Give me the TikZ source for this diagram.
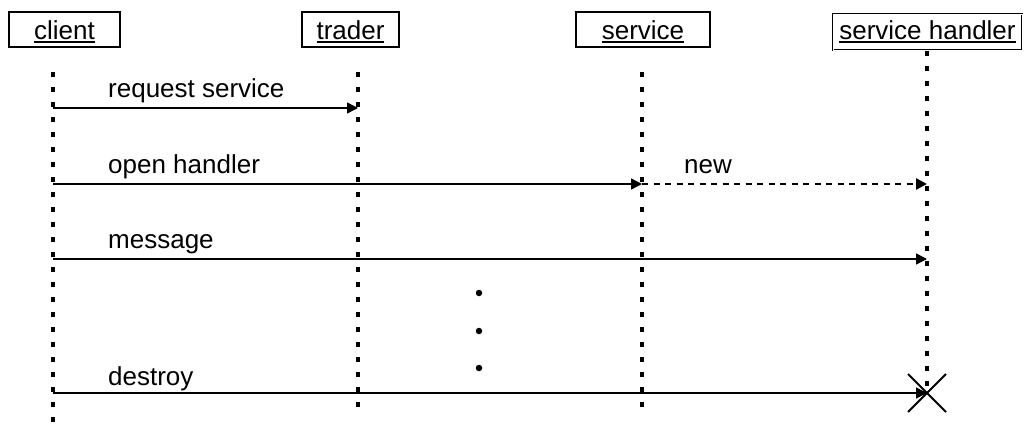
\documentclass[tikz,border=0pt]{standalone}
\usepackage{fontspec}
\setmainfont{Liberation Sans}
\usetikzlibrary{arrows.meta,calc}
\newcommand\objname[1]{\setbox0\hbox{#1}\rlap{\rule[-2.8pt]{\wd0}{1.3pt}}\box0}
\tikzset{
  objbox/.style={draw, line width=1.3pt, inner sep=0pt, text height=21pt, text depth=0pt, anchor=center},
  lifeline/.style={line width=3.2pt, dash pattern=on 5pt off 10pt},
  msg/.style={line width=1.6pt, -{Triangle[length=11pt,width=11pt]}},
  create/.style={line width=2.4pt, dash pattern=on 6pt off 5.5pt, -{Triangle[length=11pt,width=11pt]}},
  lbl/.style={anchor=base west, inner sep=0pt},
  dotmark/.style={circle, fill, inner sep=0pt, minimum size=6.5pt}
}
\begin{document}
\begin{tikzpicture}[x=1pt, y=-1pt, font=\fontsize{26}{30}\selectfont]
\useasboundingbox (0,0) rectangle (1026,428);

% object boxes
\node[objbox, minimum width=111pt, minimum height=35pt] (client) at (64.5,29.5) {\objname{client}};
\node[objbox, minimum width=97pt, minimum height=35pt] (trader) at (350.5,29.5) {\objname{trader}};
\node[objbox, minimum width=134pt, minimum height=35pt] (service) at (643,29.5) {\objname{service}};
\node[objbox, double, double distance=0.8pt, line width=1pt, text height=16pt, minimum width=189pt, minimum height=36pt] (handler) at (927.5,32) {\objname{service handler}};

% lifeline ends
\coordinate (cTop) at (53,72);   \coordinate (cBot) at (53,428);
\coordinate (tTop) at (358,72);  \coordinate (tBot) at (358,412);
\coordinate (sTop) at (642,72);  \coordinate (sBot) at (642,412);
\coordinate (hTop) at (927,51);  \coordinate (hBot) at (927,393);

\draw[lifeline] (cTop) -- (cBot);
\draw[lifeline] (tTop) -- (tBot);
\draw[lifeline] (sTop) -- (sBot);
\draw[lifeline] (hTop) -- (hBot);

% message end points
\coordinate (m1a) at (53,108);  \coordinate (m1b) at (358,108);
\coordinate (m2a) at (53,184);  \coordinate (m2b) at (642,184);
\coordinate (m3b) at (927,184);
\coordinate (m4a) at (53,259);  \coordinate (m4b) at (927,259);
\coordinate (m5a) at (53,393);  \coordinate (m5b) at (927,393);

\draw[msg] (m1a) -- (m1b);
\draw[msg] (m2a) -- (m2b);
\draw[create] (m2b) -- (m3b);
\draw[msg] (m4a) -- (m4b);
\draw[msg] (m5a) -- (m5b);

% message labels
\node[lbl] (l1) at (108,97) {request service};
\node[lbl] (l2) at (108,173) {open handler};
\node[lbl] (l3) at (684,173) {new};
\node[lbl] (l4) at (108,248) {message};
\node[lbl] (l5) at (108,385) {destroy};

% destruction mark
\draw[line width=1.8pt] ($(m5b)+(-19,-19)$) -- ($(m5b)+(19,19)$);
\draw[line width=1.8pt] ($(m5b)+(-19,19)$) -- ($(m5b)+(19,-19)$);

% ellipsis
\node[dotmark] (d1) at (479,293) {};
\node[dotmark] (d2) at (479,331) {};
\node[dotmark] (d3) at (479,368) {};
\end{tikzpicture}
\end{document}
